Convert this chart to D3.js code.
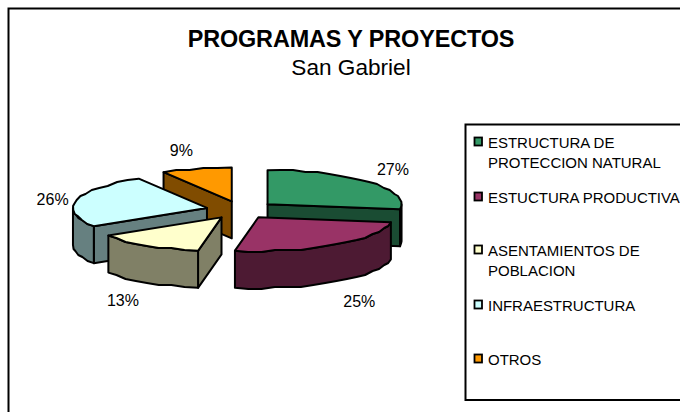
<!DOCTYPE html>
<html><head><meta charset="utf-8">
<script src="https://cdn.jsdelivr.net/npm/d3@7/dist/d3.min.js"></script>
<style>html,body{margin:0;padding:0;background:#fff;overflow:hidden}svg{display:block}text{font-family:"Liberation Sans",Arial,sans-serif;fill:#000}</style>
</head><body><svg id="c" width="680" height="412"></svg>
<script>
const categories = [["ESTRUCTURA DE","PROTECCION NATURAL"],["ESTUCTURA PRODUCTIVA"],["ASENTAMIENTOS DE","POBLACION"],["INFRAESTRUCTURA"],["OTROS"]];
const values = [27.4,25.4,13.2,25.5,8.5];
const topColors = ["#339966","#993366","#ffffcc","#ccffff","#ff9900"];
const wallColors = ["#1a4c33","#4d1a33","#808066","#668080","#804c00"];
const titleText = "PROGRAMAS Y PROYECTOS";
const subtitleText = "San Gabriel";

const svg = d3.select("#c");
const cx=241, cy=210, rx=134, ry=34, depth=37, explode=35, grid=2;
const labelNudge=[[-2,4],[3,1],[-5,-1],[9,6],[-6,6]];
const apexNudge=[[0,0],[-3,0],[0,0],[0,0],[0,0]];
const legendY=[142,197,250,305,359];

svg.append("rect").attr("x",8.5).attr("y",8.5).attr("width",720).attr("height",460).attr("fill","#fff").attr("stroke","#000").attr("stroke-width",2);
svg.append("text").attr("x",351).attr("y",47).attr("text-anchor","middle").attr("font-size",23.4).attr("font-weight","bold").attr("letter-spacing",-0.1).text(titleText);
svg.append("text").attr("x",351).attr("y",75).attr("text-anchor","middle").attr("font-size",22.6).text(subtitleText);

const pie=d3.pie().sort(null).value(d=>d)(values);
const X=d3.scaleLinear().domain([-1,1]).range([-rx,rx]);
const Y=d3.scaleLinear().domain([-1,1]).range([ry,-ry]);
const line=d3.line().x(d=>d[0]).y(d=>d[1]);
const snap=v=>Math.round(v/grid)*grid;
function rim(ap,a0,a1){
  const n=Math.max(1,Math.round((a1-a0)/(Math.PI/32))),pts=[];
  for(let i=0;i<=n;i++){
    const a=a0+(a1-a0)*i/n;
    const x=ap[0]+X(Math.sin(a)),y=ap[1]+Y(Math.cos(a));
    pts.push(i===0||i===n?[x,y]:[x,snap(y)]);
  }
  return pts;
}
const slices=pie.map((p,i)=>{
  const m=(p.startAngle+p.endAngle)/2;
  return {i,p,m,ap:[cx+X(Math.sin(m))*explode/rx+apexNudge[i][0],cy+Y(Math.cos(m))*explode/rx+apexNudge[i][1]]};
});
const g=svg.append("g").attr("stroke","#000").attr("stroke-width",2).attr("stroke-linejoin","round");
[4,0,3,2,1].forEach(k=>{
  const s=slices[k],a0=s.p.startAngle,a1=s.p.endAngle,ap=s.ap,wall=wallColors[k];
  const radial=a=>{
    const e=[ap[0]+X(Math.sin(a)),ap[1]+Y(Math.cos(a))];
    g.append("path").attr("fill",wall).attr("d",line([ap,e,[e[0],e[1]+depth],[ap[0],ap[1]+depth]])+"Z");
  };
  if(Math.sin(a0)<0) radial(a0);
  if(Math.sin(a1)>0) radial(a1);
  const f0=Math.max(a0,Math.PI/2),f1=Math.min(a1,Math.PI*1.5);
  if(f1>f0){
    const r=rim(ap,f0,f1);
    const low=r.slice().reverse().map(d=>[d[0],d[1]+depth]);
    g.append("path").attr("fill",wall).attr("d",line(r.concat(low))+"Z");
  }
  g.append("path").attr("fill",topColors[k]).attr("d",line([ap].concat(rim(ap,a0,a1)))+"Z");
});
slices.forEach(s=>{
  const n=labelNudge[s.i],c=Math.cos(s.m);
  svg.append("text").attr("text-anchor","middle").attr("dominant-baseline","middle").attr("font-size",16)
    .attr("x",s.ap[0]+168*Math.sin(s.m)+n[0])
    .attr("y",s.ap[1]-58*c+(c<0?depth:0)+n[1])
    .text(Math.round(values[s.i])+"%");
});
svg.append("rect").attr("x",465.5).attr("y",124.5).attr("width",260).attr("height",275.5).attr("fill","#fff").attr("stroke","#000").attr("stroke-width",2);
categories.forEach((c,i)=>{
  svg.append("rect").attr("x",474.5).attr("y",legendY[i]-4.5).attr("width",7.5).attr("height",8).attr("fill",topColors[i]).attr("stroke","#000").attr("stroke-width",1.8);
  c.forEach((t,j)=>svg.append("text").attr("x",488).attr("y",legendY[i]+6+j*20.3).attr("font-size",15).attr("letter-spacing",-0.02).text(t));
});
</script></body></html>
